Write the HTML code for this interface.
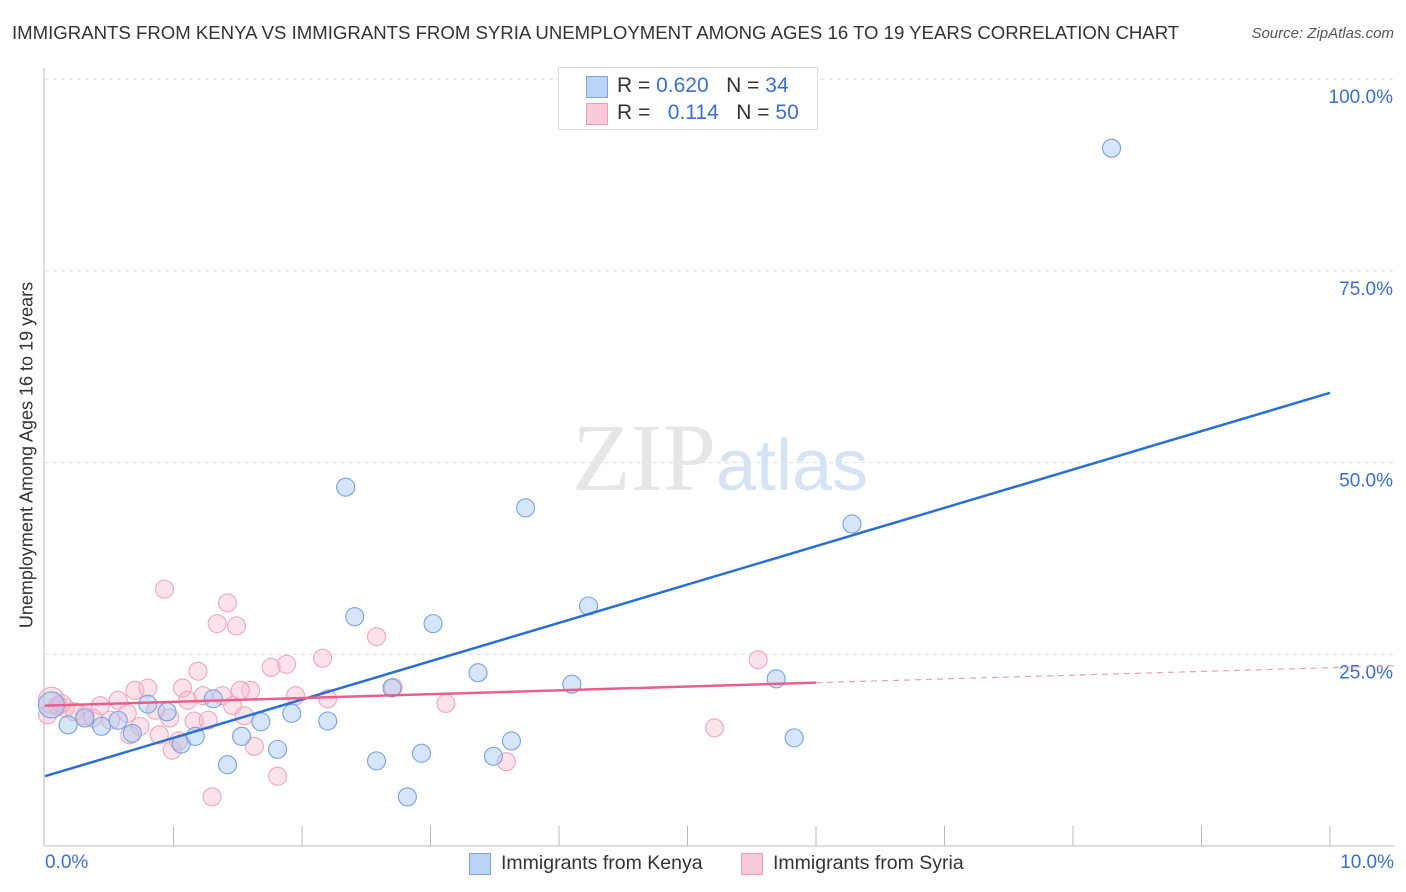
<!DOCTYPE html>
<html><head><meta charset="utf-8"><style>
body{margin:0;background:#fff;font-family:"Liberation Sans",sans-serif;}
#wrap{position:relative;width:1406px;height:892px;overflow:hidden;}
.t{position:absolute;white-space:nowrap;}
</style></head><body>
<div id="wrap">
<div class="t" style="left:12px;top:22px;font-size:18.6px;color:#333">IMMIGRANTS FROM KENYA VS IMMIGRANTS FROM SYRIA UNEMPLOYMENT AMONG AGES 16 TO 19 YEARS CORRELATION CHART</div>
<div class="t" style="right:12px;top:25px;font-size:15px;color:#555;font-style:italic">Source: ZipAtlas.com</div>
<div class="t" style="left:27px;top:455px;font-size:18px;color:#333;transform:translate(-50%,-50%) rotate(-90deg)">Unemployment Among Ages 16 to 19 years</div>
<svg id="svg" width="1406" height="892" style="position:absolute;left:0;top:0"></svg>
<div class="t" style="left:558px;top:67px;width:258px;height:61px;border:1px solid #ddd;background:#fff">
 <div style="position:absolute;left:27px;top:8px;width:20px;height:20px;background:#bcd4f6;border:1px solid #7aa6e6"></div>
 <div class="t" style="left:58px;top:6px;font-size:21px;color:#333">R = <span style="color:#3a6fd0">0.620</span>&nbsp;&nbsp;&nbsp;N = <span style="color:#3a6fd0">34</span></div>
 <div style="position:absolute;left:27px;top:35px;width:20px;height:20px;background:#fbcad8;border:1px solid #ef9db6"></div>
 <div class="t" style="left:58px;top:33px;font-size:21px;color:#333">R = &nbsp;&nbsp;<span style="color:#3a6fd0">0.114</span>&nbsp;&nbsp;&nbsp;N = <span style="color:#3a6fd0">50</span></div>
</div>
<div style="position:absolute;left:469px;top:853px;width:20px;height:20px;background:#bcd4f6;border:1px solid #7aa6e6"></div>
<div class="t" style="left:501px;top:852px;font-size:19.5px;color:#333">Immigrants from Kenya</div>
<div style="position:absolute;left:741px;top:853px;width:20px;height:20px;background:#fbcad8;border:1px solid #ef9db6"></div>
<div class="t" style="left:773px;top:852px;font-size:19.5px;color:#333">Immigrants from Syria</div>
<div class="t" style="left:45px;top:852px;font-size:19px;color:#3a6fd0">0.0%</div>
<div class="t" style="right:12px;top:852px;font-size:19px;color:#3a6fd0">10.0%</div>
</div>
<script>
const kenyaX=[0.05,0.18,0.31,0.44,0.57,0.68,0.80,0.95,1.06,1.17,1.31,1.42,1.53,1.68,1.81,1.92,2.20,2.34,2.41,2.58,2.70,2.82,2.93,3.02,3.37,3.49,3.63,3.74,4.10,4.23,5.69,5.83,6.28,8.30];
const kenyaY=[18.4,15.8,16.7,15.6,16.4,14.7,18.5,17.5,13.3,14.3,19.2,10.6,14.3,16.2,12.6,17.3,16.3,46.8,29.9,11.1,20.6,6.4,12.1,29.0,22.6,11.7,13.7,44.1,21.1,31.3,21.8,14.1,42.0,91.0];
const syriaX=[0.05,0.02,0.10,0.16,0.23,0.31,0.43,0.51,0.57,0.64,0.70,0.74,0.80,0.86,0.89,0.93,0.99,1.04,1.07,1.11,1.16,1.19,1.23,1.30,1.34,1.38,1.42,1.46,1.49,1.55,1.60,1.63,1.76,1.81,1.88,1.95,2.16,2.20,2.58,2.71,3.12,3.59,5.21,5.55,0.13,0.37,0.66,1.27,1.52,0.97];
const syriaY=[19.0,17.1,18.3,18.0,17.5,17.0,18.3,16.4,19.0,17.3,20.3,15.6,20.6,17.7,14.5,33.5,12.5,13.7,20.6,19.0,16.3,22.8,19.6,6.4,29.0,19.6,31.7,18.3,28.7,17.0,20.3,13.0,23.3,9.1,23.7,19.6,24.5,19.2,27.3,20.7,18.6,11.0,15.4,24.3,18.6,16.7,14.5,16.4,20.3,16.7];
const kenyaTrend=[9.1,59.1];
const syriaTrend=[18.3,21.3,23.5];
const yTicks=[25,50,75,100];
const xTicks=[0,1,2,3,4,5,6,7,8,9,10];
const NS="http://www.w3.org/2000/svg";
const svg=document.getElementById('svg');
const X=v=>45+v*128.5, Y=v=>846-v*7.668;
function mk(t,a){const e=document.createElementNS(NS,t);for(const k in a)e.setAttribute(k,a[k]);svg.appendChild(e);return e;}
yTicks.forEach(t=>{
 const l=mk('line',{x1:45,x2:1395,y1:Y(t),y2:Y(t),stroke:'#ddd','stroke-dasharray':'4,4'});
 
 
 const tx=mk('text',{x:1393,y:Y(t)+24,'text-anchor':'end','font-size':19,fill:'#3a6fd0','font-family':'Liberation Sans, sans-serif'});
 tx.textContent=t.toFixed(1)+'%';
 
 
});
const ax=mk('line',{x1:44,x2:44,y1:68,y2:846,stroke:'#bbb'});


const bx=mk('line',{x1:44,x2:1395,y1:846,y2:846,stroke:'#bbb'});


xTicks.forEach(t=>{if(t===0)return;
 const l=mk('line',{x1:X(t),x2:X(t),y1:826,y2:846,stroke:'#bbb'});
 
 
});
const wm=mk('text',{x:720,y:490,'text-anchor':'middle','font-size':96,fill:'#e6e6e6','font-family':'Liberation Serif, serif'});
wm.innerHTML='ZIP<tspan fill="#d6e3f5" font-family="Liberation Sans, sans-serif" font-size="72">atlas</tspan>';


function pts(xs,ys,fill,stroke,name){xs.forEach((x,i)=>{
 const c=mk('circle',{cx:X(x),cy:Y(ys[i]),r:(i===0?13:9),fill:fill,stroke:stroke,'stroke-width':1.1});
 
 
});}
pts(syriaX,syriaY,'rgba(248,185,205,0.4)','#f0a6bd','syria-point');
pts(kenyaX,kenyaY,'rgba(165,198,240,0.45)','#76a3e2','kenya-point');
const kl=mk('line',{x1:X(0),y1:Y(kenyaTrend[0]),x2:X(10),y2:Y(kenyaTrend[1]),stroke:'#2a6fd6','stroke-width':2.5});


const sl=mk('line',{x1:X(0),y1:Y(syriaTrend[0]),x2:X(6.0),y2:Y(syriaTrend[1]),stroke:'#e8608a','stroke-width':2.5});


const sd=mk('line',{x1:X(6.0),y1:Y(syriaTrend[1]),x2:X(10.5),y2:Y(syriaTrend[2]),stroke:'#e8a0b8','stroke-width':1.2,'stroke-dasharray':'6,5'});


</script>
</body></html>
